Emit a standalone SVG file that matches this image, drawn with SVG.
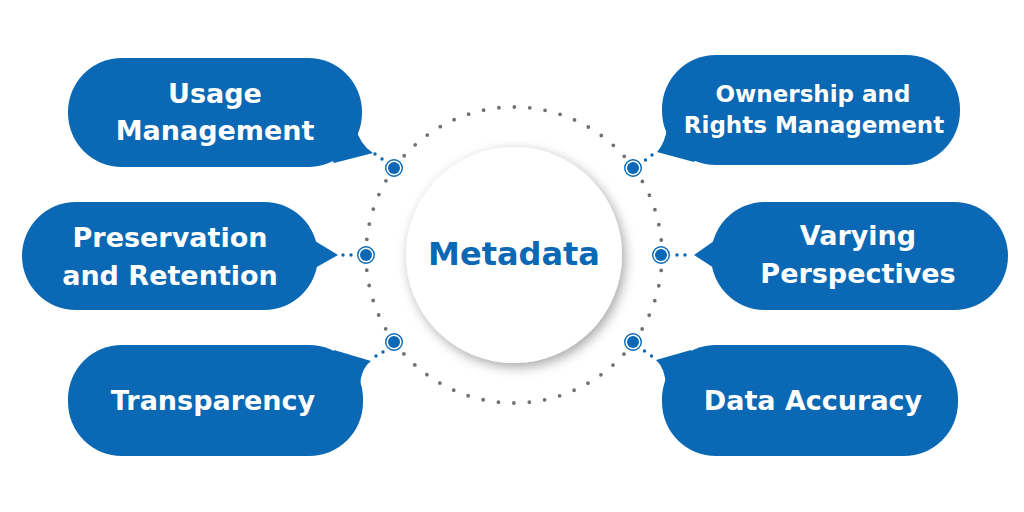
<svg xmlns="http://www.w3.org/2000/svg" width="1024" height="512" viewBox="0 0 1024 512">
  <defs>
    <style>
      .bub { fill: #0a68b4; }
      .lbl { font-family: "DejaVu Sans", "Liberation Sans", sans-serif; font-weight: bold; fill: #ffffff; text-anchor: middle; }
      .ring { fill: none; stroke: #707070; stroke-width: 3.8; stroke-linecap: round; stroke-dasharray: 0 15.5; }
      .cd { fill: #0a68b4; }
      .nodeO { fill: #ffffff; stroke: #0a68b4; stroke-width: 1.4; }
      .nodeI { fill: #0a68b4; }
    </style>
    <filter id="sh" x="-30%" y="-30%" width="160%" height="160%">
      <feDropShadow dx="3" dy="4" stdDeviation="6" flood-color="#000000" flood-opacity="0.35"/>
    </filter>
  </defs>
  <rect width="1024" height="512" fill="#ffffff"/>

  <g id="ring">
    <circle cx="514" cy="255" r="148" class="ring"/>
  </g>

  <g id="center">
    <circle cx="514" cy="255" r="108" fill="#ffffff" filter="url(#sh)"/>
    <text x="514" y="265" style="font-family:'DejaVu Sans','Liberation Sans',sans-serif;font-weight:bold;font-size:32px;fill:#0a68b4;text-anchor:middle">Metadata</text>
  </g>

  <g id="connectors">
    <circle class="cd" cx="375" cy="154" r="1.7"/><circle class="cd" cx="382" cy="159" r="1.7"/>
    <circle class="cd" cx="343" cy="255" r="1.7"/><circle class="cd" cx="351" cy="255" r="1.7"/>
    <circle class="cd" cx="376" cy="356" r="1.7"/><circle class="cd" cx="383" cy="352" r="1.7"/>
    <circle class="cd" cx="652" cy="155" r="1.7"/><circle class="cd" cx="645.5" cy="160" r="1.7"/>
    <circle class="cd" cx="677" cy="255" r="1.7"/><circle class="cd" cx="685" cy="255" r="1.7"/>
    <circle class="cd" cx="651.5" cy="356" r="1.7"/><circle class="cd" cx="644.5" cy="351" r="1.7"/>
    <g>
      <circle cx="394" cy="168" r="8.3" class="nodeO"/><circle cx="394" cy="168" r="6" class="nodeI"/>
      <circle cx="366" cy="255" r="8.3" class="nodeO"/><circle cx="366" cy="255" r="6" class="nodeI"/>
      <circle cx="394" cy="342" r="8.3" class="nodeO"/><circle cx="394" cy="342" r="6" class="nodeI"/>
      <circle cx="633" cy="168" r="8.3" class="nodeO"/><circle cx="633" cy="168" r="6" class="nodeI"/>
      <circle cx="661" cy="255" r="8.3" class="nodeO"/><circle cx="661" cy="255" r="6" class="nodeI"/>
      <circle cx="633" cy="342" r="8.3" class="nodeO"/><circle cx="633" cy="342" r="6" class="nodeI"/>
    </g>
  </g>

  <g id="usage-management">
    <rect x="68" y="58" width="294" height="109" rx="54" class="bub"/>
    <path d="M355,126 Q360,145 373,153 L334,163 L318,140 Z" class="bub"/>
    <text class="lbl" x="215" y="103" font-size="27">Usage</text>
    <text class="lbl" x="215" y="140" font-size="27">Management</text>
  </g>

  <g id="preservation-retention">
    <rect x="22" y="202" width="296" height="108" rx="54" class="bub"/>
    <path d="M315,241 L338,255 L315,268 L298,255 Z" class="bub"/>
    <text class="lbl" x="170" y="247" font-size="27">Preservation</text>
    <text class="lbl" x="170" y="285" font-size="27">and Retention</text>
  </g>

  <g id="transparency">
    <rect x="68" y="345" width="295" height="111" rx="54" class="bub"/>
    <path d="M334,350 L371,361 Q361,368 360,386 L318,384 Z" class="bub"/>
    <text class="lbl" x="213" y="410" font-size="27">Transparency</text>
  </g>

  <g id="ownership-rights">
    <rect x="662" y="55" width="298" height="110" rx="54" class="bub"/>
    <path d="M668,124 Q665,144 657,152 L694,162 L708,140 Z" class="bub"/>
    <text class="lbl" x="813" y="102" font-size="23">Ownership and</text>
    <text class="lbl" x="814" y="133" font-size="23">Rights Management</text>
  </g>

  <g id="varying-perspectives">
    <rect x="711" y="202" width="297" height="108" rx="54" class="bub"/>
    <path d="M714,241 L694,255 L714,268 L730,255 Z" class="bub"/>
    <text class="lbl" x="858" y="245" font-size="27">Varying</text>
    <text class="lbl" x="858" y="283" font-size="27">Perspectives</text>
  </g>

  <g id="data-accuracy">
    <rect x="662" y="345" width="296" height="111" rx="54" class="bub"/>
    <path d="M691,350 L656,360 Q665,368 666,386 L708,384 Z" class="bub"/>
    <text class="lbl" x="813" y="410" font-size="27">Data Accuracy</text>
  </g>
</svg>
